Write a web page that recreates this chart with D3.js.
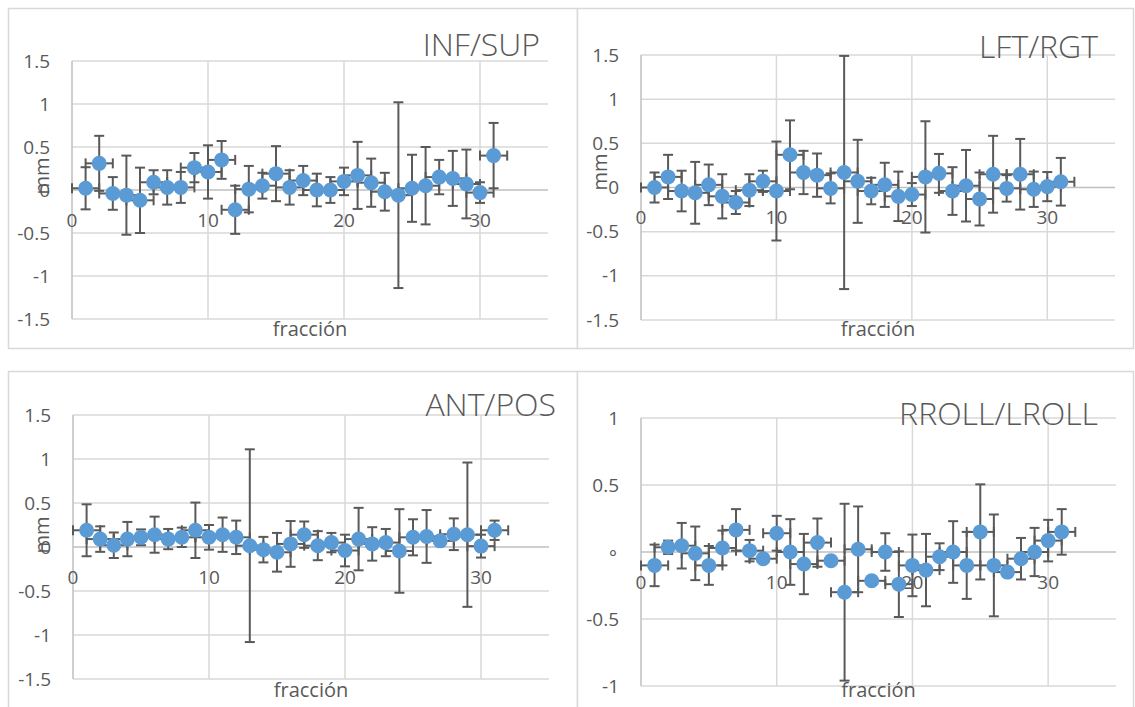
<!DOCTYPE html>
<html>
<head>
<meta charset="utf-8">
<script src="https://cdn.jsdelivr.net/npm/d3@7"></script>
<style>
  body { margin: 0; background: #fff; }
  svg text { font-family: "Open Sans", "Noto Sans", sans-serif; fill: #595959; }
</style>
</head>
<body>
<div id="chart"></div>
<script>
// fracciones 1..31
var fracciones = [1,2,3,4,5,6,7,8,9,10,11,12,13,14,15,16,17,18,19,20,21,22,23,24,25,26,27,28,29,30,31];

// INF/SUP (mm)
var infSupMedia = [0.02,0.31,-0.04,-0.06,-0.12,0.09,0.03,0.03,0.26,0.21,0.35,-0.23,0.01,0.05,0.19,0.03,0.11,0.0,0.0,0.10,0.17,0.085,-0.02,-0.06,0.02,0.05,0.15,0.135,0.07,-0.03,0.40];
var infSupError = [0.245,0.32,0.19,0.46,0.38,0.14,0.20,0.18,0.17,0.31,0.22,0.28,0.27,0.15,0.32,0.20,0.17,0.19,0.15,0.16,0.39,0.28,0.22,1.08,0.39,0.45,0.20,0.32,0.40,0.12,0.38];

// LFT/RGT (mm)
var lftRgtMedia = [0.0,0.12,-0.04,-0.06,0.03,-0.10,-0.17,-0.03,0.07,-0.04,0.37,0.17,0.14,-0.01,0.17,0.07,-0.04,0.03,-0.10,-0.08,0.12,0.16,-0.04,0.02,-0.13,0.15,-0.01,0.15,-0.02,0.01,0.065];
var lftRgtError = [0.17,0.25,0.23,0.35,0.23,0.25,0.13,0.18,0.12,0.56,0.39,0.245,0.245,0.17,1.32,0.47,0.15,0.25,0.28,0.13,0.63,0.22,0.27,0.405,0.30,0.435,0.15,0.40,0.20,0.165,0.27];

// ANT/POS (mm)
var antPosMedia = [0.19,0.09,0.02,0.09,0.11,0.14,0.09,0.11,0.19,0.11,0.14,0.11,0.015,-0.03,-0.06,0.035,0.14,0.015,0.05,-0.04,0.09,0.035,0.05,-0.045,0.11,0.12,0.07,0.145,0.14,0.01,0.19];
var antPosError = [0.295,0.145,0.145,0.195,0.09,0.205,0.115,0.11,0.315,0.14,0.195,0.19,1.095,0.145,0.22,0.26,0.15,0.165,0.11,0.18,0.355,0.19,0.155,0.475,0.205,0.30,0.05,0.18,0.82,0.13,0.11];

// RROLL/LROLL
var rollMedia = [-0.10,0.035,0.047,-0.01,-0.10,0.03,0.165,0.01,-0.05,0.14,0.0,-0.09,0.07,-0.065,-0.30,0.02,-0.215,0.0,-0.24,-0.10,-0.135,-0.035,0.0,-0.10,0.15,-0.10,-0.15,-0.05,0.0,0.085,0.15];
var rollError = [0.155,0.05,0.17,0.20,0.145,0.13,0.155,0.08,0.03,0.13,0.245,0.225,0.18,0.03,0.66,0.32,0.03,0.14,0.245,0.23,0.27,0.10,0.23,0.25,0.355,0.38,0.03,0.155,0.18,0.155,0.17];

var errorX = 1;

// ticks
var ticksX = [0, 10, 20, 30];
var ticksMm = [-1.5, -1, -0.5, 0, 0.5, 1, 1.5];
var ticksRoll = [-1, -0.5, 0, 0.5, 1];

var width = 1135, height = 707;

var svg = d3.select("#chart").append("svg")
    .attr("width", width)
    .attr("height", height);

var panels = [
    { title: "INF/SUP", media: infSupMedia, error: infSupError, ticks: ticksMm, domain: [-1.5, 1.5],
      box: [8, 8, 569, 340], plot: { left: 72, right: 548, top: 61, bottom: 319 },
      titleX: 540, titleY: 45, mm: [42, 176], fracY: 329 },
    { title: "LFT/RGT", media: lftRgtMedia, error: lftRgtError, ticks: ticksMm, domain: [-1.5, 1.5],
      box: [577, 8, 556, 340], plot: { left: 641, right: 1115, top: 55, bottom: 320 },
      titleX: 1098, titleY: 47, mm: [600, 172], fracY: 329 },
    { title: "ANT/POS", media: antPosMedia, error: antPosError, ticks: ticksMm, domain: [-1.5, 1.5],
      box: [8, 371, 569, 345], plot: { left: 73, right: 549, top: 415, bottom: 679 },
      titleX: 556, titleY: 405, mm: [42, 535], fracY: 690 },
    { title: "RROLL/LROLL", media: rollMedia, error: rollError, ticks: ticksRoll, domain: [-1, 1],
      box: [577, 371, 556, 345], plot: { left: 641, right: 1116, top: 418, bottom: 686 },
      titleX: 1098, titleY: 414, mm: null, fracY: 690, zeroLabel: "\u2218" }
];

panels.forEach(function(p) {
    var g = svg.append("g");

    g.append("rect")
        .attr("x", p.box[0] + 0.5).attr("y", p.box[1] + 0.5)
        .attr("width", p.box[2]).attr("height", p.box[3])
        .attr("fill", "white")
        .attr("stroke", "#d9d9d9")
        .attr("stroke-width", 1.5);

    var x = d3.scaleLinear().domain([0, 35]).range([p.plot.left, p.plot.right]);
    var y = d3.scaleLinear().domain(p.domain).range([p.plot.bottom, p.plot.top]);

    // horizontal gridlines
    g.selectAll(".hgrid")
        .data(p.ticks)
        .enter().append("line")
        .attr("x1", x(0)).attr("x2", x(35))
        .attr("y1", function(d) { return y(d); })
        .attr("y2", function(d) { return y(d); })
        .attr("stroke", function(d) { return d === 0 ? "#bfbfbf" : "#d9d9d9"; })
        .attr("stroke-width", 1.5);

    // vertical gridlines
    g.selectAll(".vgrid")
        .data(ticksX)
        .enter().append("line")
        .attr("x1", function(d) { return x(d); })
        .attr("x2", function(d) { return x(d); })
        .attr("y1", y(p.domain[0])).attr("y2", y(p.domain[1]))
        .attr("stroke", function(d) { return d === 0 ? "#bfbfbf" : "#d9d9d9"; })
        .attr("stroke-width", 1.5);

    // y tick labels
    g.selectAll(".ylab")
        .data(p.ticks)
        .enter().append("text")
        .attr("x", p.plot.left - 22)
        .attr("y", function(d) { return y(d); })
        .attr("dy", "0.35em")
        .attr("text-anchor", "end")
        .style("font-size", "19px")
        .text(function(d) { return (d === 0 && p.zeroLabel) ? p.zeroLabel : d; });

    // x tick labels (below the zero line)
    g.selectAll(".xlab")
        .data(ticksX)
        .enter().append("text")
        .attr("x", function(d) { return x(d); })
        .attr("y", y(0) + 30)
        .attr("dy", "0.35em")
        .attr("text-anchor", "middle")
        .style("font-size", "19px")
        .text(function(d) { return d; });

    // title
    g.append("text")
        .attr("x", p.titleX)
        .attr("y", p.titleY)
        .attr("dy", "0.35em")
        .attr("text-anchor", "end")
        .style("font-size", "32px")
        .style("font-weight", 300)
        .text(p.title);

    // axis titles
    g.append("text")
        .attr("x", (p.plot.left + p.plot.right) / 2)
        .attr("y", p.fracY)
        .attr("dy", "0.35em")
        .attr("text-anchor", "middle")
        .style("font-size", "20px")
        .text("fracción");

    if (p.mm) {
        g.append("text")
            .attr("transform", "translate(" + p.mm[0] + "," + p.mm[1] + ") rotate(-90)")
            .attr("dy", "0.35em")
            .attr("text-anchor", "middle")
            .style("font-size", "20px")
            .text("mm");
    }

    var rows = fracciones.map(function(f, i) {
        return { f: f, m: p.media[i], e: p.error[i] };
    });

    var eb = g.append("g")
        .attr("stroke", "#595959")
        .attr("stroke-width", 2)
        .attr("fill", "none");
    var cap = 5;

    rows.forEach(function(d) {
        // vertical error bar
        eb.append("line")
            .attr("x1", x(d.f)).attr("x2", x(d.f))
            .attr("y1", y(d.m + d.e)).attr("y2", y(d.m - d.e));
        eb.append("line")
            .attr("x1", x(d.f) - cap).attr("x2", x(d.f) + cap)
            .attr("y1", y(d.m + d.e)).attr("y2", y(d.m + d.e));
        eb.append("line")
            .attr("x1", x(d.f) - cap).attr("x2", x(d.f) + cap)
            .attr("y1", y(d.m - d.e)).attr("y2", y(d.m - d.e));
        // horizontal error bar
        eb.append("line")
            .attr("x1", x(d.f - errorX)).attr("x2", x(d.f + errorX))
            .attr("y1", y(d.m)).attr("y2", y(d.m));
        eb.append("line")
            .attr("x1", x(d.f - errorX)).attr("x2", x(d.f - errorX))
            .attr("y1", y(d.m) - cap).attr("y2", y(d.m) + cap);
        eb.append("line")
            .attr("x1", x(d.f + errorX)).attr("x2", x(d.f + errorX))
            .attr("y1", y(d.m) - cap).attr("y2", y(d.m) + cap);
    });

    g.selectAll(".pt")
        .data(rows)
        .enter().append("circle")
        .attr("cx", function(d) { return x(d.f); })
        .attr("cy", function(d) { return y(d.m); })
        .attr("r", 7.5)
        .attr("fill", "#5b9bd5");
});
</script>
</body>
</html>
